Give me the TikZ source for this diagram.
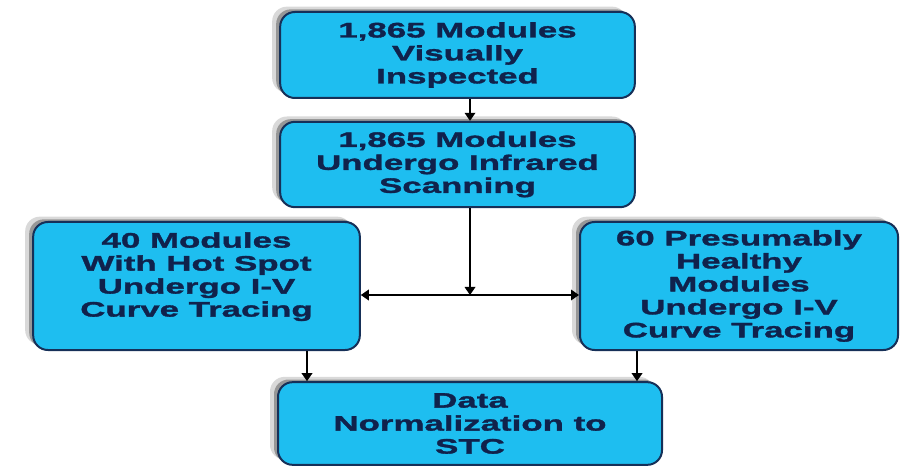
\documentclass[tikz,border=0pt]{standalone}
\usepackage{fontspec}
\usepackage{xcolor}
\usepackage{tikz}
\usetikzlibrary{positioning,arrows.meta,calc,shadows}
\newfontfamily\boxfont[FakeStretch=1.66, FakeBold=1.6]{Liberation Sans Bold}
\definecolor{boxfill}{RGB}{30,190,240}
\definecolor{boxline}{RGB}{22,48,88}
\definecolor{boxtext}{RGB}{16,34,76}

\begin{document}
\begin{tikzpicture}[
  x=0.75pt, y=-0.75pt, >={Triangle[length=6pt,width=8pt]},
  stage/.style={draw=boxline, line width=1.5pt, fill=boxfill, rounded corners=11pt,
    align=center, inner sep=2pt, text=boxtext,
    font=\boxfont\fontsize{15.75pt}{17.25pt}\selectfont,
    drop shadow={shadow xshift=-6pt, shadow yshift=4pt, opacity=0.15, fill=black},
    drop shadow={shadow xshift=-3pt, shadow yshift=2pt, opacity=0.3, fill=black}},
  arr/.style={->, line width=1pt, black},
]
\useasboundingbox (0,0) rectangle (902,466);
% top chain
\node[stage, minimum width=266pt, minimum height=64.5pt] (insp) at (457.5,55)
  {1,865 Modules\\Visually\\Inspected};
\node[stage, minimum width=266pt, minimum height=64pt] (scan) at (457.5,164.5)
  {1,865 Modules\\Undergo Infrared\\Scanning};
% split
\node[stage, minimum width=245pt, minimum height=96pt] (hot) at (196.5,286)
  {40 Modules\\With Hot Spot\\Undergo I-V\\Curve Tracing\\ \mbox{}};
\node[stage, minimum width=238.5pt, minimum height=96pt] (healthy) at (739,286)
  {60 Presumably\\Healthy\\Modules\\Undergo I-V\\Curve Tracing};
\node[stage, minimum width=288pt, minimum height=62pt] (norm) at (470,423.5)
  {Data\\Normalization to\\STC};
% connectors
\coordinate (split) at (470,295);
\coordinate (dl) at (307,0);
\coordinate (dr) at (637,0);
\draw[arr] (insp.south -| split) -- (scan.north -| split);
\draw[arr] (scan.south -| split) -- (split);
\draw[arr] (split) -- (hot.east |- split);
\draw[arr] (split) -- (healthy.west |- split);
\draw[arr] (hot.south -| dl) -- (norm.north -| dl);
\draw[arr] (healthy.south -| dr) -- (norm.north -| dr);
\end{tikzpicture}
\end{document}
